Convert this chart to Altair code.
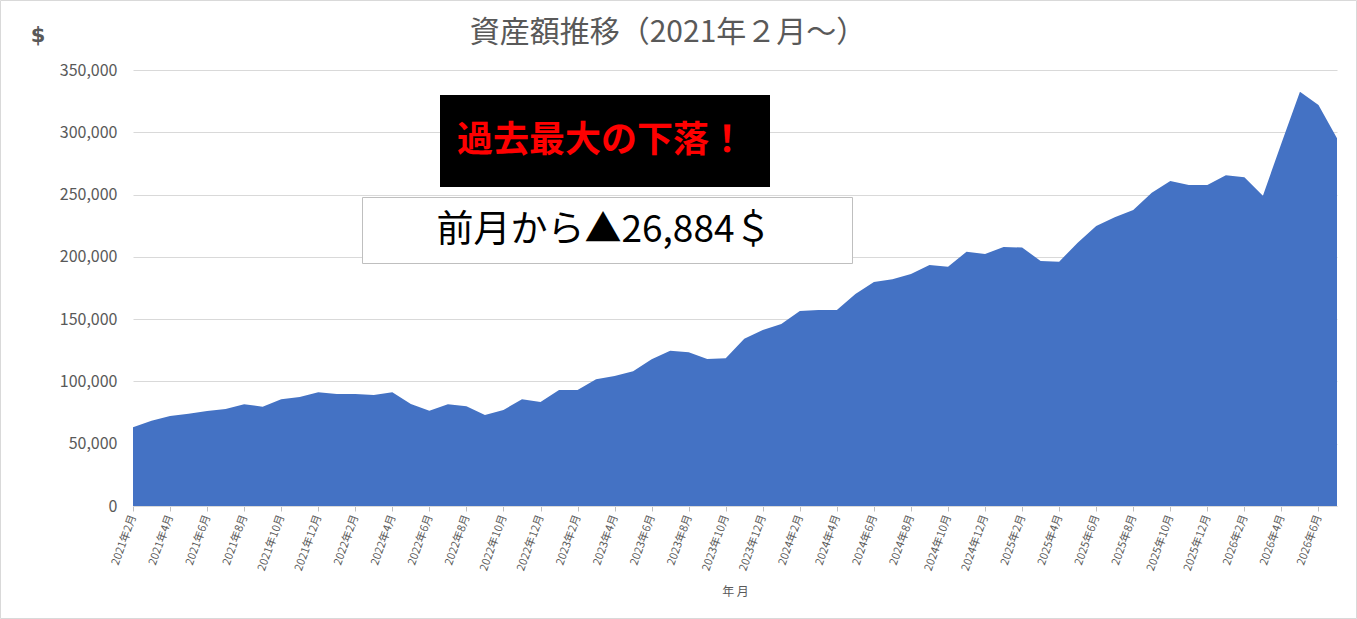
import altair as alt
import pandas as pd

# Monthly asset balance in US dollars, Feb 2021 .. Jul 2026
years_months = [(2021, m) for m in range(2, 13)] + [
    (y, m) for y in range(2022, 2026) for m in range(1, 13)
] + [(2026, m) for m in range(1, 8)]
months = [f"{y}年{m}月" for y, m in years_months]

assets = [
    63200, 68500, 72200, 74100, 76300, 77900, 81600, 79700, 85600, 87500,
    91300, 89900, 89900, 89100, 91300, 81900, 76500, 81600, 80000, 73000,
    77100, 85600, 83500, 93100, 93100, 101700, 104400, 108100, 117800, 124700,
    123400, 118000, 118600, 134300, 141300, 146100, 156500, 157300, 157300, 170200,
    179800, 182000, 186200, 193500, 192100, 204100, 202300, 207900, 207500, 196700,
    196100, 211400, 224800, 231700, 237600, 251500, 260900, 257700, 257700, 265500,
    263900, 249100, 291200, 332600, 322000, 295116,
]

y_ticks = [0, 50000, 100000, 150000, 200000, 250000, 300000, 350000]

title_text = "資産額推移（2021年２月～）"
alert_text = "過去最大の下落！"
drop = assets[-2] - assets[-1]
drop_text = f"前月から▲{drop:,}＄"

df = pd.DataFrame({"month": months, "assets": assets})

GRAY = "#595959"
JP = "Noto Sans CJK JP"

area = alt.Chart(df).mark_area(color="#4472c4", opacity=1).encode(
    x=alt.X(
        "month:O",
        sort=months,
        scale=alt.Scale(type="point", padding=0),
        axis=alt.Axis(
            values=months[::2],
            labelAngle=-70,
            labelFontSize=11,
            labelColor=GRAY,
            labelFont=JP,
            labelPadding=4,
            domainColor="#d9d9d9",
            tickColor="#bfbfbf",
            tickSize=5,
            grid=False,
            title="年 月",
            titleFont=JP,
            titleFontSize=12,
            titleFontWeight="normal",
            titleColor=GRAY,
            titleY=85,
            titleBaseline="middle",
        ),
    ),
    y=alt.Y(
        "assets:Q",
        scale=alt.Scale(domain=[0, 350000], nice=False),
        axis=alt.Axis(
            values=y_ticks,
            format=",d",
            labelFont=JP,
            labelFontSize=16,
            labelColor=GRAY,
            labelPadding=16,
            domain=False,
            ticks=False,
            gridColor="#d9d9d9",
            title=None,
        ),
    ),
)

one = pd.DataFrame({"k": [0]})

border = alt.Chart(one).mark_rect(fill=None, stroke="#d9d9d9", strokeWidth=1).encode(
    x=alt.value(-132.5), x2=alt.value(1223.5), y=alt.value(-69.5), y2=alt.value(548.5)
)

title = alt.Chart(one).mark_text(
    text=title_text, font=JP, fontSize=30, color=GRAY, align="center", baseline="middle"
).encode(x=alt.value(535), y=alt.value(-37))

dollar = alt.Chart(one).mark_text(
    text="$", font="DejaVu Sans", fontSize=21, fontWeight="bold", color=GRAY,
    align="center", baseline="middle",
).encode(x=alt.value(-95), y=alt.value(-34))

alert_box = alt.Chart(one).mark_rect(fill="black").encode(
    x=alt.value(307), x2=alt.value(637), y=alt.value(25), y2=alt.value(117)
)
alert = alt.Chart(one).mark_text(
    text=alert_text, font=JP, fontSize=36, fontWeight="bold", color="#ff0000",
    align="center", baseline="middle",
).encode(x=alt.value(468), y=alt.value(71))

drop_box = alt.Chart(one).mark_rect(fill="white", stroke="#bfbfbf", strokeWidth=1).encode(
    x=alt.value(229.5), x2=alt.value(719.5), y=alt.value(127.5), y2=alt.value(193.5)
)
drop_label = alt.Chart(one).mark_text(
    text=drop_text, font=JP, fontSize=37, color="black", align="center", baseline="middle",
).encode(x=alt.value(471), y=alt.value(161))

chart = alt.layer(
    area, border, title, dollar, alert_box, alert, drop_box, drop_label
).properties(
    width=1204,
    height=436,
    autosize=alt.AutoSizeParams(type="none"),
    padding={"left": 133, "top": 70, "right": 20, "bottom": 113},
    background="white",
).configure_view(stroke=None)

chart.save("out.html", embed_options={"renderer": "svg", "actions": False})
